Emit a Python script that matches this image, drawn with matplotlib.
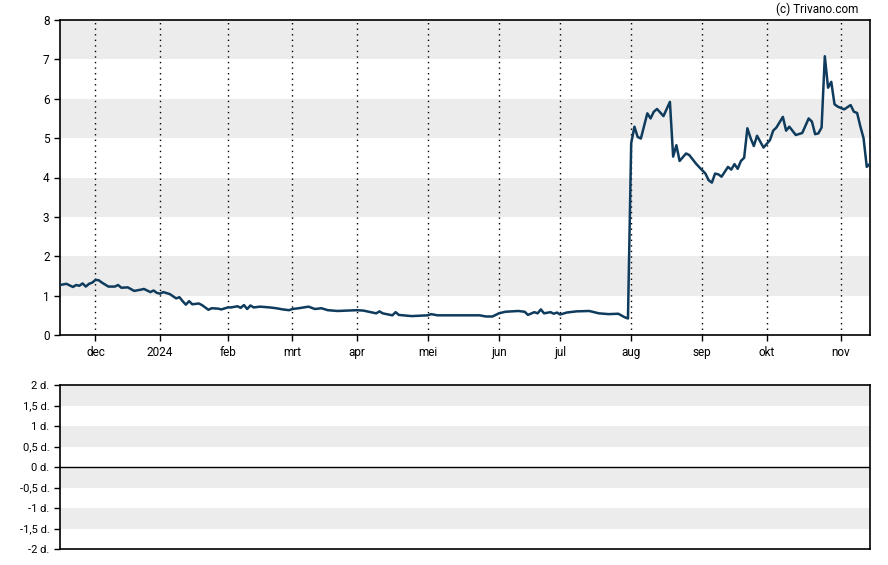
import numpy as np
import pandas as pd
import matplotlib
matplotlib.use("Agg")
import matplotlib.pyplot as plt

# koersdata (handelsdagen)
dates = [
    "2023-11-15", "2023-11-17", "2023-11-21", "2023-11-22", "2023-11-24", "2023-11-27",
    "2023-11-28", "2023-11-29", "2023-11-30", "2023-12-01", "2023-12-04", "2023-12-05",
    "2023-12-07", "2023-12-11", "2023-12-12", "2023-12-13", "2023-12-15", "2023-12-19",
    "2023-12-21", "2023-12-22", "2023-12-27", "2023-12-28", "2023-12-29",
    "2024-01-02", "2024-01-03", "2024-01-05", "2024-01-09", "2024-01-10", "2024-01-11",
    "2024-01-12", "2024-01-16", "2024-01-17", "2024-01-19", "2024-01-22", "2024-01-24",
    "2024-01-25", "2024-01-29", "2024-01-30",
    "2024-02-01", "2024-02-02", "2024-02-06", "2024-02-07", "2024-02-08", "2024-02-09",
    "2024-02-12", "2024-02-13", "2024-02-15", "2024-02-21", "2024-02-23", "2024-02-27",
    "2024-02-29",
    "2024-03-01", "2024-03-05", "2024-03-08", "2024-03-12", "2024-03-14", "2024-03-18",
    "2024-03-21", "2024-03-26",
    "2024-04-01", "2024-04-03", "2024-04-09", "2024-04-10", "2024-04-11", "2024-04-16",
    "2024-04-17", "2024-04-18", "2024-04-24",
    "2024-05-01", "2024-05-02", "2024-05-06", "2024-05-14", "2024-05-23", "2024-05-28",
    "2024-05-30",
    "2024-06-03", "2024-06-05", "2024-06-11", "2024-06-13", "2024-06-14", "2024-06-18",
    "2024-06-20", "2024-06-21", "2024-06-24", "2024-06-26", "2024-06-27", "2024-06-28",
    "2024-07-01", "2024-07-03", "2024-07-09", "2024-07-15", "2024-07-18", "2024-07-23",
    "2024-07-26", "2024-07-30", "2024-07-31",
    "2024-08-01", "2024-08-02", "2024-08-05", "2024-08-06", "2024-08-08", "2024-08-09",
    "2024-08-12", "2024-08-13", "2024-08-15", "2024-08-19", "2024-08-20", "2024-08-21",
    "2024-08-22", "2024-08-26", "2024-08-27", "2024-08-29", "2024-08-30",
    "2024-09-04", "2024-09-05", "2024-09-06", "2024-09-09", "2024-09-10", "2024-09-11",
    "2024-09-13", "2024-09-16", "2024-09-17", "2024-09-18", "2024-09-19", "2024-09-20",
    "2024-09-23", "2024-09-24", "2024-09-25", "2024-09-26", "2024-09-30",
    "2024-10-02", "2024-10-03", "2024-10-04", "2024-10-08", "2024-10-09", "2024-10-10",
    "2024-10-14", "2024-10-16", "2024-10-18", "2024-10-21", "2024-10-22", "2024-10-23",
    "2024-10-24", "2024-10-25", "2024-10-28", "2024-10-29", "2024-10-30", "2024-10-31",
    "2024-11-04", "2024-11-06", "2024-11-07", "2024-11-08", "2024-11-11", "2024-11-12",
    "2024-11-13", "2024-11-14",
]
prices = [
    1.27, 1.30, 1.22, 1.27, 1.25, 1.31,
    1.23, 1.30, 1.33, 1.40, 1.39, 1.33,
    1.23, 1.23, 1.27, 1.20, 1.21, 1.12,
    1.15, 1.17, 1.09, 1.13, 1.07,
    1.05, 1.09, 1.04, 0.93, 0.96, 0.86,
    0.77, 0.86, 0.78, 0.80, 0.76, 0.64,
    0.68, 0.67, 0.65,
    0.70, 0.70, 0.73, 0.69, 0.76, 0.66,
    0.75, 0.70, 0.72, 0.70, 0.68, 0.65,
    0.63,
    0.66, 0.68, 0.72, 0.66, 0.68, 0.63,
    0.61, 0.62,
    0.63, 0.62, 0.55, 0.60, 0.55, 0.50,
    0.58, 0.51, 0.48,
    0.50, 0.53, 0.50, 0.50, 0.50, 0.47,
    0.47,
    0.55, 0.59, 0.61, 0.59, 0.51, 0.58,
    0.55, 0.65, 0.55, 0.58, 0.54, 0.57,
    0.52, 0.57, 0.60, 0.61, 0.55, 0.53,
    0.54, 0.45, 0.42,
    4.87, 5.29, 5.03, 4.99, 5.63, 5.50,
    5.67, 5.74, 5.56, 5.92, 4.53, 4.82,
    4.42, 4.61, 4.57, 4.36, 4.27,
    4.10, 3.93, 3.87, 4.10, 4.08, 4.02,
    4.27, 4.20, 4.34, 4.22, 4.42, 4.50,
    5.25, 5.00, 4.80, 5.06, 4.76,
    4.95, 5.19, 5.27, 5.54, 5.19, 5.29,
    5.08, 5.13, 5.50, 5.42, 5.10, 5.12,
    5.27, 7.08, 6.28, 6.43, 5.86, 5.80,
    5.73, 5.84, 5.67, 5.64, 5.30, 5.00,
    4.27, 4.35,
]

month_labels = ["dec", "2024", "feb", "mrt", "apr", "mei", "jun", "jul", "aug", "sep", "okt", "nov"]
month_starts = ["2023-12-01", "2024-01-01", "2024-02-01", "2024-03-01", "2024-04-01", "2024-05-01",
                "2024-06-01", "2024-07-01", "2024-08-01", "2024-09-01", "2024-10-01", "2024-11-01"]

div_ticks = [2, 1.5, 1, 0.5, 0, -0.5, -1, -1.5, -2]
div_labels = ["2 d.", "1,5 d.", "1 d.", "0,5 d.", "0 d.", "-0,5 d.", "-1 d.", "-1,5 d.", "-2 d."]

# beursvrije dagen (handelsdagen-as)
holidays = ["2023-11-23", "2023-12-25", "2024-01-01", "2024-01-15", "2024-02-19", "2024-03-29",
            "2024-05-27", "2024-06-19", "2024-07-04", "2024-09-02"]

start = "2023-11-15"
end = "2024-11-14"

def tradingIndex(d):
    return np.busday_count(start, d, holidays=holidays)

x = np.array([tradingIndex(d) for d in dates])
tick_x = [tradingIndex(d) for d in month_starts]
x_end = tradingIndex(end)

plt.rcParams['font.family'] = ['Roboto', 'DejaVu Sans']
line_color = "#0f3b5c"
band_color = "#ececec"

fig = plt.figure(figsize=(8.88, 5.65), dpi=100)
ax = fig.add_axes([60 / 888, 1 - 335 / 565, 810 / 888, 315 / 565])
ax2 = fig.add_axes([60 / 888, 1 - 549 / 565, 810 / 888, 164 / 565])

# bovenste grafiek: koers
for lo in [1, 3, 5, 7]:
    ax.axhspan(lo, lo + 1, color=band_color, lw=0, zorder=0)
for t in tick_x:
    ax.axvline(t, color="black", lw=1, ls=(0, (1, 3)), zorder=1)
ax.plot(x, prices, color=line_color, lw=1.8, zorder=3, solid_joinstyle="round")
ax.set_xlim(0, x_end)
ax.set_ylim(0, 8)
ax.set_yticks(range(0, 9))
ax.set_xticks(tick_x)
ax.set_xticklabels(month_labels)
ax.tick_params(axis="both", direction="out", length=4, width=1, labelsize=8.5, colors="black")
ax.tick_params(axis="x", pad=4)
for s in ax.spines.values():
    s.set_color("black")
    s.set_linewidth(1.2)

fig.text(858 / 888, 1 - 9 / 565, "(c) Trivano.com", ha="right", va="center", fontsize=8.5)

# onderste grafiek: dividend
for lo in [1.5, 0.5, -0.5, -1.5]:
    ax2.axhspan(lo, lo + 0.5, color=band_color, lw=0, zorder=0)
ax2.axhline(0, color="black", lw=1, zorder=2)
ax2.set_xlim(0, x_end)
ax2.set_ylim(-2, 2)
ax2.set_yticks(div_ticks)
ax2.set_yticklabels(div_labels)
ax2.set_xticks([])
ax2.tick_params(axis="y", direction="out", length=4, width=1, labelsize=8, colors="black")
for s in ax2.spines.values():
    s.set_color("black")
    s.set_linewidth(1.2)

fig.savefig("out.png", dpi=100)
